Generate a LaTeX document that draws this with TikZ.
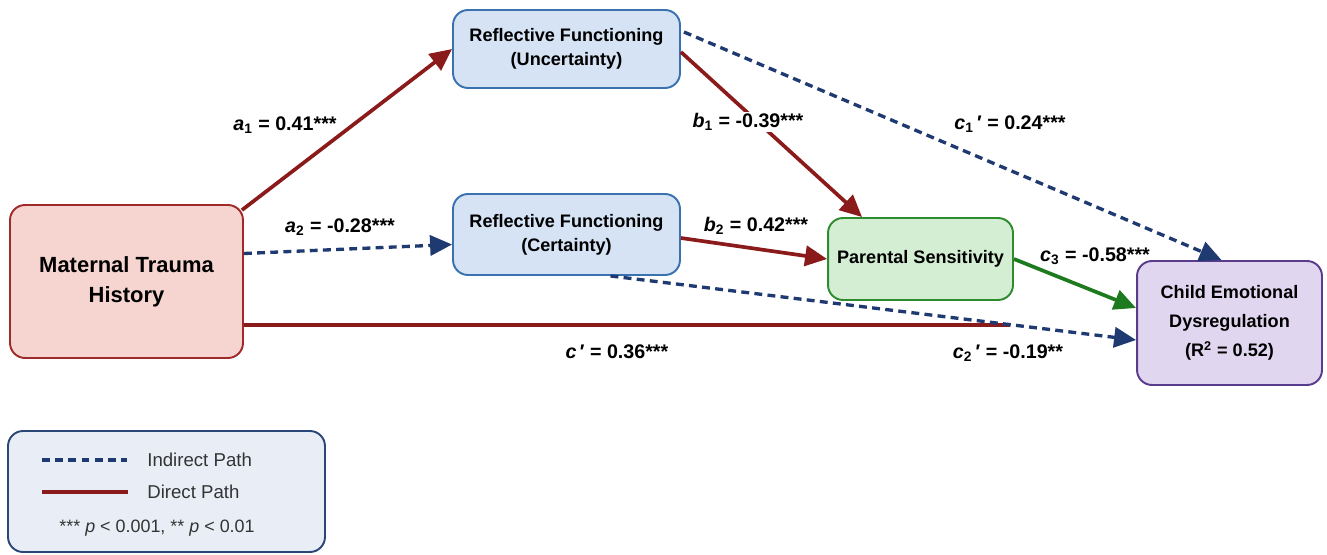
\documentclass[tikz,border=0pt]{standalone}
\usepackage{fontspec}
\setmainfont{Liberation Sans}
\usetikzlibrary{arrows.meta,calc}
\definecolor{dred}{HTML}{8B1A1A}
\definecolor{navy}{HTML}{1F3A70}
\definecolor{dgreen}{HTML}{1E7A1E}
\definecolor{mthfill}{HTML}{F6D5D0}
\definecolor{mthdraw}{HTML}{A02A2A}
\definecolor{rffill}{HTML}{D5E3F5}
\definecolor{rfdraw}{HTML}{3A72B0}
\definecolor{psfill}{HTML}{D4EED4}
\definecolor{psdraw}{HTML}{2E8B2E}
\definecolor{cedfill}{HTML}{E1D6EF}
\definecolor{ceddraw}{HTML}{5A3C8C}
\definecolor{legfill}{HTML}{E9EEF6}
\definecolor{legdraw}{HTML}{2B4777}
\definecolor{legtext}{HTML}{333333}
\begin{document}
\begin{tikzpicture}[x=0.02cm,y=-0.02cm,
  box/.style={draw, rounded corners=0.3cm, line width=1.1pt, align=center, inner sep=0pt, text=black},
  boxtext/.style={font=\fontsize{10.3}{13.5}\selectfont\bfseries},
  tip/.style={-{Triangle[length=12.5pt,width=11.5pt]}},
  direct/.style={draw=dred, line width=2.1pt, tip},
  indirect/.style={draw=navy, line width=1.9pt, dash pattern=on 4.5pt off 3pt, tip},
  greenpath/.style={draw=dgreen, line width=2.1pt, tip},
  lbl/.style={font=\fontsize{11.2}{13}\selectfont\bfseries, text=black, inner sep=1pt},
  legtxt/.style={font=\fontsize{10.6}{12}\selectfont, text=legtext, anchor=west, inner sep=0pt}
]
\useasboundingbox (0,0) rectangle (1327,554);

% nodes
\node[box, fill=mthfill, draw=mthdraw, minimum width=4.66cm, minimum height=3.06cm,
      font=\fontsize{12.5}{17}\selectfont\bfseries] (mth) at (126.5,281.5) {Maternal Trauma\\History};
\node[box, boxtext, fill=rffill, draw=rfdraw, minimum width=4.54cm, minimum height=1.56cm] (rfu) at (566.5,49) {Reflective Functioning\\(Uncertainty)};
\node[box, boxtext, fill=rffill, draw=rfdraw, minimum width=4.54cm, minimum height=1.62cm] (rfc) at (566.5,234.5) {Reflective Functioning\\(Certainty)};
\node[box, boxtext, fill=psfill, draw=psdraw, minimum width=3.7cm, minimum height=1.64cm] (ps) at (920.5,259) {Parental Sensitivity};
\node[box, font=\fontsize{10.3}{16.5}\selectfont\bfseries, fill=cedfill, draw=ceddraw, minimum width=3.7cm, minimum height=2.48cm] (ced) at (1229.5,323) {Child Emotional\\Dysregulation\\(R\textsuperscript{2} = 0.52)};

% connectors
\coordinate (cpend) at (1010,325);
\draw[direct, -] ($(mth.east)+(0,43.5)$) -- (cpend);
\draw[indirect] ($(rfu.east)+(3,-17)$) -- ($(ced.north)+(-8,0)$);
\draw[indirect] ($(rfc.south)+(44,0)$) -- ($(ced.west)+(0,17)$);
\draw[direct] ($(mth.north east)+(-2,6)$) -- (rfu.west);
\draw[indirect] ($(mth.east)+(0,-28)$) -- ($(rfc.west)+(0,10)$);
\draw[direct] ($(rfu.east)+(0,3)$) -- ($(ps.north)+(-58.5,0)$);
\draw[direct] ($(rfc.east)+(0,3.5)$) -- (ps.west);
\draw[greenpath] (ps.east) -- ($(ced.west)+(0,-15)$);

% labels
\node[lbl] (la1) at (285,125) {\textit{a}\textsubscript{1} = 0.41***};
\node[lbl] (la2) at (340,227) {\textit{a}\textsubscript{2} = -0.28***};
\node[lbl, fill=white] (lb1) at (748,122) {\textit{b}\textsubscript{1} = -0.39***};
\node[lbl] (lc1) at (1010,124) {\textit{c}\textsubscript{1}\,′ = 0.24***};
\node[lbl] (lb2) at (756,226) {\textit{b}\textsubscript{2} = 0.42***};
\node[lbl] (lc3) at (1095,256) {\textit{c}\textsubscript{3} = -0.58***};
\node[lbl] (lcp) at (617,352) {\textit{c}\,′ = 0.36***};
\node[lbl] (lc2) at (1008,353) {\textit{c}\textsubscript{2}\,′ = -0.19**};

% legend
\node[draw=legdraw, fill=legfill, line width=1.1pt, rounded corners=0.3cm, minimum width=6.34cm, minimum height=2.42cm] (leg) at (166.5,491.5) {};
\draw[navy, line width=1.9pt, dash pattern=on 4.5pt off 3pt] (42,460) -- (127,460);
\node[legtxt] (l1) at (147,460) {Indirect Path};
\draw[dred, line width=2.1pt] (42,492) -- (128,492);
\node[legtxt] (l2) at (147,492) {Direct Path};
\node[font=\fontsize{10.2}{12}\selectfont, text=legtext] (l3) at (157,528) {*** \textit{p} < 0.001, ** \textit{p} < 0.01};
\end{tikzpicture}
\end{document}
